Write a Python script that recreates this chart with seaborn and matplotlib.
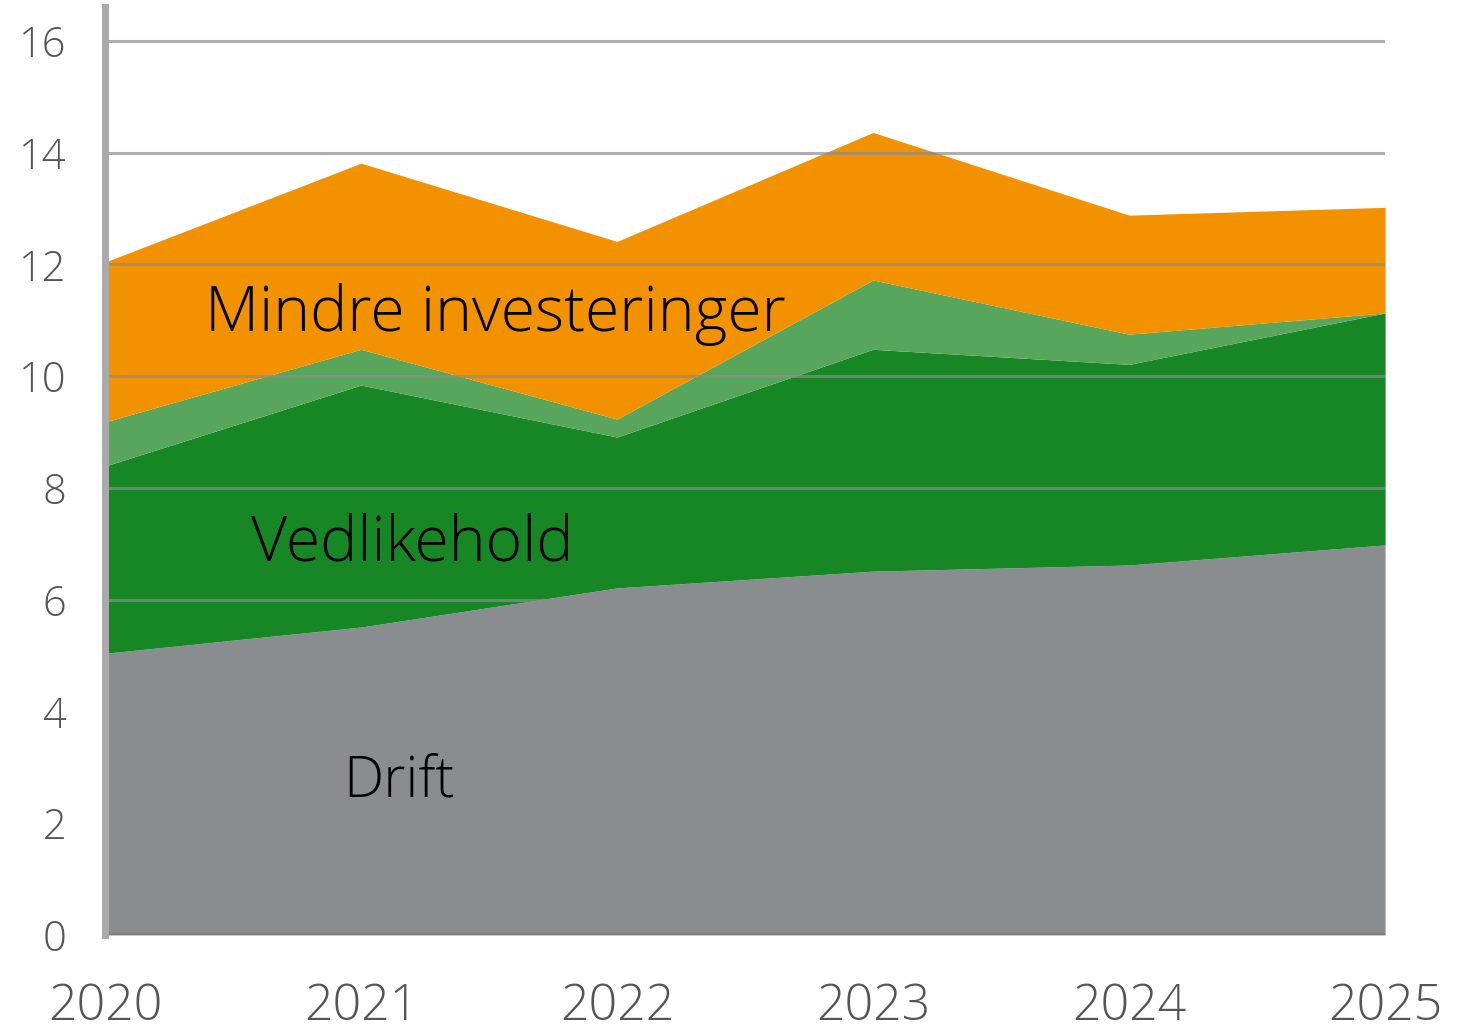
import matplotlib
matplotlib.use("Agg")
import matplotlib.pyplot as plt
import seaborn as sns

# --- data ---
years = [2020, 2021, 2022, 2023, 2024, 2025]
drift = [5.04, 5.51, 6.21, 6.51, 6.62, 6.98]
vedlikehold = [3.35, 4.33, 2.70, 3.97, 3.59, 4.15]
annet = [0.79, 0.64, 0.32, 1.24, 0.54, 0.0]
mindre_inv = [2.86, 3.33, 3.18, 2.64, 2.13, 1.89]

layer_colors = ["#8a8d90", "#178726", "#58a55c", "#f29200"]
y_ticks = [0, 2, 4, 6, 8, 10, 12, 14, 16]

sns.set_style("white")
plt.rcParams['font.family'] = ['Open Sans', 'DejaVu Sans']

fig = plt.figure(figsize=(14.58, 10.36), dpi=100)
ax = fig.add_axes([0.072, 0.0975, 0.878, 0.8955])

ax.stackplot(years, drift, vedlikehold, annet, mindre_inv,
             colors=layer_colors, linewidth=0, zorder=1)

# gridlines on top of the areas, slightly see-through
for t in y_ticks[1:]:
    ax.axhline(t, color="#8c8c8c", lw=2.2, alpha=0.7, zorder=2)
ax.axhline(0, color="#7d7f82", lw=3, zorder=3)

ax.set_xlim(2020, 2025)
ax.set_ylim(0, 16.6)
ax.set_xticks(years)
ax.set_yticks(y_ticks)
ax.tick_params(axis="x", length=0, pad=34, labelsize=36, labelcolor="#555555")
ax.tick_params(axis="y", length=0, pad=28, labelsize=30, labelcolor="#555555")
for lab in ax.get_xticklabels() + ax.get_yticklabels():
    lab.set_fontweight("light")

for side in ["top", "right", "bottom"]:
    ax.spines[side].set_visible(False)
ax.spines["left"].set_color("#aaaaaa")
ax.spines["left"].set_linewidth(5)
ax.spines["left"].set_zorder(4)

ax.text(2020.39, 11.1, "Mindre investeringer", fontsize=45, fontweight="light", color="black", va="center", zorder=5)
ax.text(2020.57, 7.0, "Vedlikehold", fontsize=45, fontweight="light", color="black", va="center", zorder=5)
ax.text(2020.93, 2.75, "Drift", fontsize=41, fontweight="light", color="black", va="center", zorder=5)

fig.savefig("out.png", dpi=100)
